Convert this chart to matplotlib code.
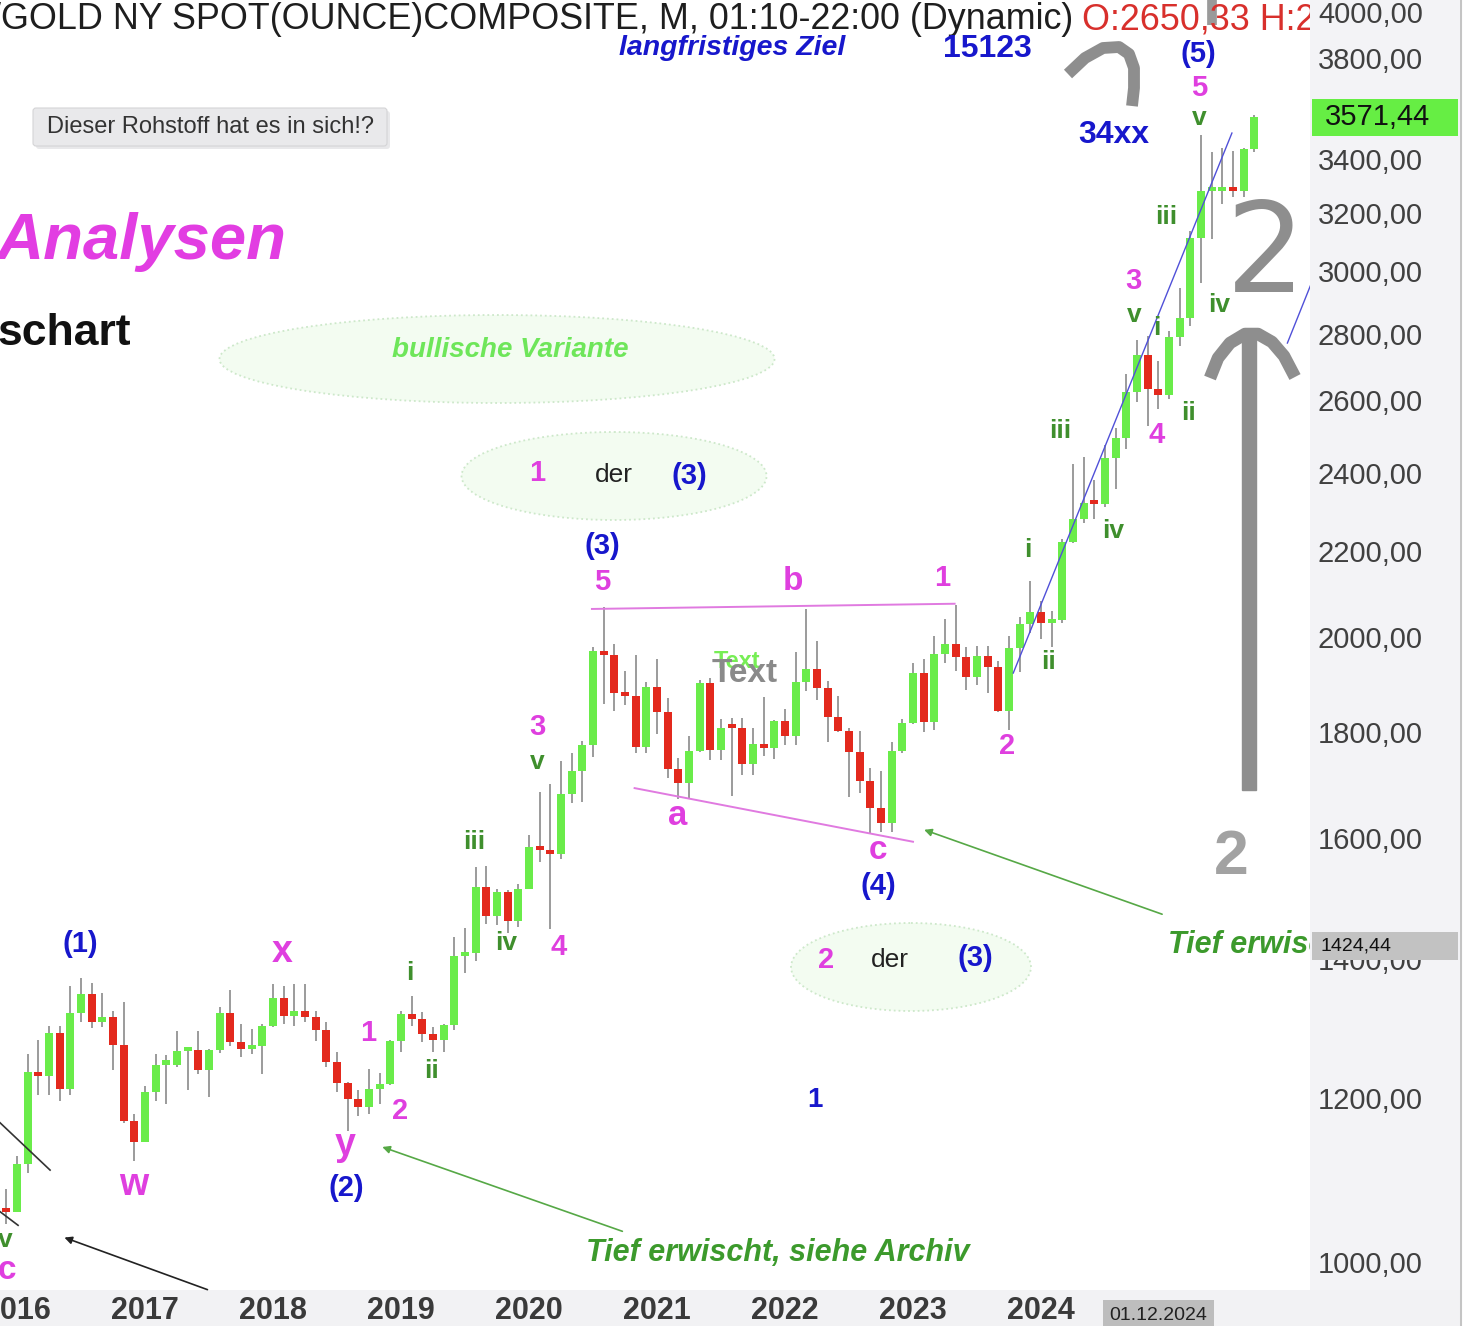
import numpy as np
import pandas as pd
import matplotlib
matplotlib.use('Agg')
import matplotlib.pyplot as plt
from matplotlib.patches import Ellipse, Rectangle, FancyBboxPatch
from matplotlib.transforms import blended_transform_factory

plt.rcParams['font.family'] = ['Liberation Sans', 'DejaVu Sans']

# monthly candles, gold spot, Nov 2015 .. Sep 2025
months = pd.period_range('2015-11', '2025-09', freq='M')
opens = [1142, 1062,
         1061, 1118, 1238, 1233, 1293, 1215, 1322, 1351, 1309, 1316, 1277, 1173,
         1146, 1211, 1249, 1249, 1268, 1269, 1242, 1269, 1322, 1280, 1271, 1275,
         1303, 1345, 1318, 1325, 1316, 1298, 1253, 1224, 1202, 1192, 1215, 1222,
         1282, 1321, 1313, 1292, 1283, 1305, 1409, 1413, 1520, 1472, 1513, 1464,
         1517, 1589, 1585, 1577, 1686, 1730, 1781, 1975, 1967, 1886, 1879, 1776,
         1898, 1847, 1734, 1707, 1769, 1906, 1770, 1814, 1813, 1743, 1783, 1774,
         1829, 1797, 1909, 1937, 1897, 1837, 1807, 1766, 1711, 1660, 1633, 1768,
         1824, 1928, 1827, 1969, 1990, 1962, 1919, 1965, 1940, 1849, 1983, 2036,
         2063, 2039, 2044, 2230, 2286, 2327, 2326, 2447, 2503, 2634, 2744, 2643,
         2624, 2798, 2858, 3124, 3289, 3289, 3303, 3290, 3448]
highs = [1146, 1088,
         1128, 1263, 1283, 1304, 1304, 1362, 1375, 1367, 1352, 1326, 1338, 1182,
         1220, 1264, 1262, 1296, 1271, 1296, 1271, 1331, 1357, 1306, 1299, 1307,
         1366, 1362, 1366, 1366, 1326, 1309, 1266, 1225, 1214, 1243, 1237, 1284,
         1326, 1347, 1324, 1302, 1306, 1439, 1453, 1555, 1557, 1517, 1516, 1525,
         1611, 1689, 1704, 1748, 1765, 1789, 1984, 2075, 1992, 1933, 1966, 1908,
         1959, 1875, 1755, 1798, 1913, 1917, 1832, 1834, 1834, 1814, 1877, 1831,
         1853, 1974, 2070, 1998, 1910, 1880, 1814, 1808, 1735, 1730, 1786, 1833,
         1949, 1959, 2009, 2048, 2079, 1985, 1987, 1987, 1953, 2009, 2052, 2135,
         2088, 2065, 2236, 2431, 2450, 2387, 2483, 2531, 2685, 2790, 2801, 2726,
         2817, 2956, 3148, 3500, 3435, 3452, 3439, 3453, 3578]
lows = [1052, 1046,
        1061, 1107, 1208, 1208, 1199, 1208, 1310, 1301, 1302, 1241, 1171, 1122,
        1146, 1200, 1195, 1245, 1214, 1236, 1205, 1265, 1275, 1260, 1264, 1236,
        1302, 1307, 1303, 1310, 1282, 1246, 1211, 1160, 1180, 1182, 1196, 1221,
        1266, 1303, 1281, 1266, 1266, 1298, 1382, 1401, 1459, 1458, 1445, 1454,
        1517, 1563, 1451, 1568, 1670, 1671, 1757, 1863, 1849, 1860, 1765, 1765,
        1802, 1717, 1677, 1677, 1766, 1750, 1750, 1682, 1721, 1722, 1758, 1753,
        1780, 1781, 1890, 1872, 1787, 1805, 1681, 1688, 1615, 1617, 1616, 1765,
        1823, 1805, 1810, 1949, 1932, 1893, 1902, 1885, 1846, 1810, 1931, 2016,
        2002, 1984, 2039, 2228, 2277, 2286, 2318, 2364, 2472, 2603, 2537, 2583,
        2614, 2772, 2833, 2970, 3121, 3245, 3268, 3268, 3436]
closes = [1062, 1061,
          1118, 1238, 1233, 1293, 1215, 1322, 1351, 1309, 1316, 1277, 1173, 1146,
          1211, 1249, 1249, 1268, 1269, 1242, 1269, 1322, 1280, 1271, 1275, 1303,
          1345, 1318, 1325, 1316, 1298, 1253, 1224, 1202, 1192, 1215, 1222, 1282,
          1321, 1313, 1292, 1283, 1305, 1409, 1413, 1520, 1472, 1513, 1464, 1517,
          1589, 1585, 1577, 1686, 1730, 1781, 1975, 1967, 1886, 1879, 1776, 1898,
          1847, 1734, 1707, 1769, 1906, 1770, 1814, 1813, 1743, 1783, 1774, 1829,
          1797, 1909, 1937, 1897, 1837, 1807, 1766, 1711, 1660, 1633, 1768, 1824,
          1928, 1827, 1969, 1990, 1962, 1919, 1965, 1940, 1849, 1983, 2036, 2063,
          2039, 2044, 2230, 2286, 2327, 2326, 2447, 2503, 2634, 2744, 2643, 2624,
          2798, 2858, 3124, 3289, 3290, 3303, 3290, 3448, 3571.44]

year_labels = ['2016', '2017', '2018', '2019', '2020', '2021', '2022', '2023', '2024']
price_ticks = [1000, 1200, 1400, 1600, 1800, 2000, 2200, 2400, 2600, 2800,
               3000, 3200, 3400, 3800, 4000]
cursor_price = 1424.44
cursor_date = '01.12.2024'

blue, mag, grn = '#1717cc', '#df3fdf', '#3f8f2d'

# wave counts: (month index from Jan 2016, price, text, colour, size)
wave_labels = [
    (5.9, 1428, '(1)', blue, 21), (30.9, 1089, '(2)', blue, 21),
    (54.9, 2220, '(3)', blue, 21), (80.8, 1522, '(4)', blue, 21),
    (110.8, 3830, '(5)', blue, 21), (74.8, 1201, '1', blue, 20),
    (10.9, 1093, 'w', mag, 27), (24.9, 1415, 'x', mag, 27), (30.8, 1142, 'y', mag, 27),
    (32.9, 1293, '1', mag, 21), (35.9, 1186, '2', mag, 21), (48.8, 1816, '3', mag, 21),
    (50.8, 1423, '4', mag, 21), (54.9, 2133, '5', mag, 21), (61.9, 1647, 'a', mag, 25),
    (72.7, 2133, 'b', mag, 24), (80.7, 1583, 'c', mag, 24), (86.7, 2142, '1', mag, 21),
    (92.8, 1778, '2', mag, 21), (104.7, 2978, '3', mag, 21), (106.8, 2511, '4', mag, 21),
    (110.8, 3689, '5', mag, 21), (-0.94, 994, 'c', mag, 24),
    (36.8, 1382, 'i', grn, 19), (38.9, 1240, 'ii', grn, 19), (42.9, 1599, 'iii', grn, 19),
    (45.9, 1429, 'iv', grn, 19), (48.8, 1747, 'v', grn, 19), (94.8, 2210, 'i', grn, 19),
    (96.7, 1952, 'ii', grn, 19), (97.8, 2522, 'iii', grn, 19), (102.8, 2257, 'iv', grn, 19),
    (104.7, 2868, 'v', grn, 19), (106.9, 2827, 'i', grn, 19), (109.8, 2573, 'ii', grn, 19),
    (107.7, 3197, 'iii', grn, 19), (112.7, 2900, 'iv', grn, 19), (110.8, 3568, 'v', grn, 19),
    (-1.1, 1028, 'v', grn, 19),
]

# trend lines: ((m0, m1), (p0, p1), colour, width)
trend_lines = [
    ((53.9, 87.9), (2070, 2082), '#e07ae0', 1.4),
    ((57.9, 84.0), (1697, 1599), '#e07ae0', 1.4),
    ((93.4, 113.9), (1928, 3509), '#5050d8', 1.0),
    ((119.1, 121.4), (2780, 2975), '#5050d8', 1.0),
    ((-1.6, 3.1), (1171, 1111), '#333333', 1.2),
    ((-1.6, 0.1), (1061, 1045), '#333333', 1.2),
]
# arrows: (from, to, colour)
arrows = [
    ((107.6, 1474), (84.8, 1622), '#56a846'),
    ((57.0, 1037), (34.0, 1141), '#56a846'),
    ((18.1, 972), (4.2, 1032), '#222222'),
]

W, H = 1472, 1326
fig = plt.figure(figsize=(W / 100, H / 100), dpi=100, facecolor='#f2f2f4')


def frame(x0, y0, x1, y1):
    return [x0 / W, 1 - y1 / H, (x1 - x0) / W, (y1 - y0) / H]


ax = fig.add_axes(frame(0, 0, 1310, 1290), zorder=1)
ax.set_facecolor('white')
ax.set_yscale('log')
ax.set_ylim(972.65, 4066.9)
ax.set_xlim(-1.594, 121.22)
for s in ax.spines.values():
    s.set_visible(False)
ax.set_yticks([])
ax.minorticks_off()
ax.set_xticks(range(0, 97, 12))
ax.set_xticklabels(year_labels, fontsize=22, fontweight='bold', color='#3a3a3a')
ax.tick_params(axis='x', length=0, pad=4.5)

x = np.arange(len(months)) - 2
o, hi, lo, c = (np.array(v, dtype=float) for v in (opens, highs, lows, closes))
up = c >= o
bot = np.minimum(o, c)
top = np.maximum(np.maximum(o, c), bot * 1.0045)
ax.vlines(x, lo, hi, color='#939393', lw=1.3, zorder=2)
ax.bar(x[up], (top - bot)[up], bottom=bot[up], width=0.74, color='#6aec4a', zorder=3)
ax.bar(x[~up], (top - bot)[~up], bottom=bot[~up], width=0.74, color='#e3291d', zorder=3)

for xs, ys, col, lw in trend_lines:
    ax.plot(xs, ys, color=col, lw=lw, zorder=4)
for (x0, y0), (x1, y1), col in arrows:
    ax.annotate('', xy=(x1, y1), xytext=(x0, y0), annotation_clip=False,
                arrowprops=dict(arrowstyle='-|>', color=col, lw=1.2, mutation_scale=11))

for m, p, s, col, fs in wave_labels:
    ax.text(m, p, s, color=col, fontsize=fs, fontweight='bold',
            ha='center', va='center', zorder=6)

bt = blended_transform_factory(ax.transData, ax.transAxes)
ax.text(107, -0.0195, cursor_date, transform=bt, ha='center', va='center', fontsize=14,
        color='#222222', bbox=dict(boxstyle='square,pad=0.35', fc='#bdbdbd', ec='none'))

# overlay in pixel units for drawings and notes
ov = fig.add_axes([0, 0, 1, 1], zorder=2)
ov.set_xlim(0, W)
ov.set_ylim(H, 0)
ov.axis('off')

ov.text(-9, 29, '/GOLD NY SPOT(OUNCE)COMPOSITE, M, 01:10-22:00 (Dynamic)',
        fontsize=25.8, color='#1e1e1e', va='baseline')
ov.text(1082, 29, 'O:2650,33 H:2', fontsize=25.8, color='#d8302c', va='baseline')
ov.plot([1212, 1212], [0, 25], color='#9a9a9a', lw=7, solid_capstyle='butt')

ov.text(732, 55, 'langfristiges Ziel', fontsize=20.5, fontweight='bold', style='italic',
        color=blue, ha='center', va='baseline')
ov.text(987, 57, '15123', fontsize=23, fontweight='bold', color=blue, ha='center', va='baseline')
ov.text(1114, 143, '34xx', fontsize=23, fontweight='bold', color=blue, ha='center', va='baseline')

ov.add_patch(FancyBboxPatch((36, 111), 354, 38, boxstyle='round,pad=0,rounding_size=3',
                            fc='#dadadc', ec='none', alpha=0.6))
ov.add_patch(FancyBboxPatch((33, 108), 354, 38, boxstyle='round,pad=0,rounding_size=3',
                            fc='#e9e9eb', ec='#d4d4d6', lw=0.8))
ov.text(47, 127, 'Dieser Rohstoff hat es in sich!?', fontsize=17, color='#333333', va='center')

ov.text(-4, 259, 'Analysen', fontsize=47, fontweight='bold', style='italic',
        color='#e23de2', va='baseline')
ov.text(-3, 345, 'schart', fontsize=32, fontweight='bold', color='#111111', va='baseline')

for cx, cy, ew in [(497, 359, 555), (614, 476, 305), (911, 967, 240)]:
    ov.add_patch(Ellipse((cx, cy), ew, 88, fc='#f3fcf1', ec='#cde8ca', ls=':', lw=1.3))
ov.text(510, 350, 'bullische Variante', fontsize=20, fontweight='bold', style='italic',
        color='#6ee65a', ha='center', va='center')
ov.text(537, 473, '1', fontsize=21, fontweight='bold', color=mag, ha='center', va='center')
ov.text(614, 475, 'der', fontsize=19, color='#222222', ha='center', va='center')
ov.text(689, 476, '(3)', fontsize=21, fontweight='bold', color=blue, ha='center', va='center')
ov.text(826, 960, '2', fontsize=21, fontweight='bold', color=mag, ha='center', va='center')
ov.text(890, 960, 'der', fontsize=19, color='#222222', ha='center', va='center')
ov.text(975, 958, '(3)', fontsize=21, fontweight='bold', color=blue, ha='center', va='center')

ov.text(737, 662, 'Text', fontsize=17, fontweight='bold', color='#77ee55', ha='center', va='center')
ov.text(745, 673, 'Text', fontsize=24, fontweight='bold', color='#8a8a8a', ha='center', va='center')

ov.text(778, 1253, 'Tief erwischt, siehe Archiv', fontsize=22, fontweight='bold', style='italic',
        color='#3c9a2c', ha='center', va='center')
ov.text(1168, 945, 'Tief erwischt', fontsize=22, fontweight='bold', style='italic',
        color='#3c9a2c', ha='left', va='center')

# hand drawn strokes
g = '#8e8e8e'
ov.plot([1068, 1085, 1103, 1119, 1129, 1134, 1134, 1132],
        [74, 58, 48, 47, 54, 68, 88, 106], color=g, lw=8.5, solid_capstyle='butt')
ov.plot([1210, 1218, 1230, 1245, 1258, 1272, 1284, 1295],
        [378, 358, 343, 334, 334, 342, 356, 377], color=g, lw=9, solid_capstyle='butt')
ov.add_patch(Rectangle((1242, 333), 14, 457, color=g))
ov.text(1266, 258, '2', fontsize=90, color=g, ha='center', va='center', family='DejaVu Sans')
ov.text(1231, 857, '2', fontsize=45, fontweight='bold', color='#a2a2a2', ha='center', va='center')

ov.add_patch(Rectangle((1460, 0), 12, H, color='white'))
ov.plot([1461, 1461], [0, H], color='#c4c4c4', lw=1.5)

# price scale
pax = fig.add_axes(frame(1310, 0, 1460, 1290), zorder=3)
pax.set_facecolor('#f3f3f6')
pax.set_yscale('log')
pax.set_ylim(ax.get_ylim())
pax.set_xlim(0, 1)
for s in pax.spines.values():
    s.set_visible(False)
pax.set_xticks([])
pax.set_yticks([])
pax.minorticks_off()
pt = blended_transform_factory(pax.transAxes, pax.transData)
for p in price_ticks:
    pax.text(0.053, p, f'{p},00', transform=pt, fontsize=21, color='#404040', va='center')

last = c[-1]
pax.add_patch(Rectangle((0.013, last / 1.0207), 0.974, last * 1.0207 - last / 1.0207,
                        transform=pt, fc='#66ee44', ec='none', zorder=5))
pax.text(0.1, last, f'{last:.2f}'.replace('.', ','), transform=pt, fontsize=21,
         color='#111111', va='center', zorder=6)
pax.add_patch(Rectangle((0.013, cursor_price / 1.0152), 0.974,
                        cursor_price * 1.0152 - cursor_price / 1.0152,
                        transform=pt, fc='#c2c2c2', ec='none', zorder=5))
pax.text(0.07, cursor_price, f'{cursor_price:.2f}'.replace('.', ','), transform=pt,
         fontsize=14, color='#111111', va='center', zorder=6)

fig.savefig('out.png', dpi=100, facecolor=fig.get_facecolor())
